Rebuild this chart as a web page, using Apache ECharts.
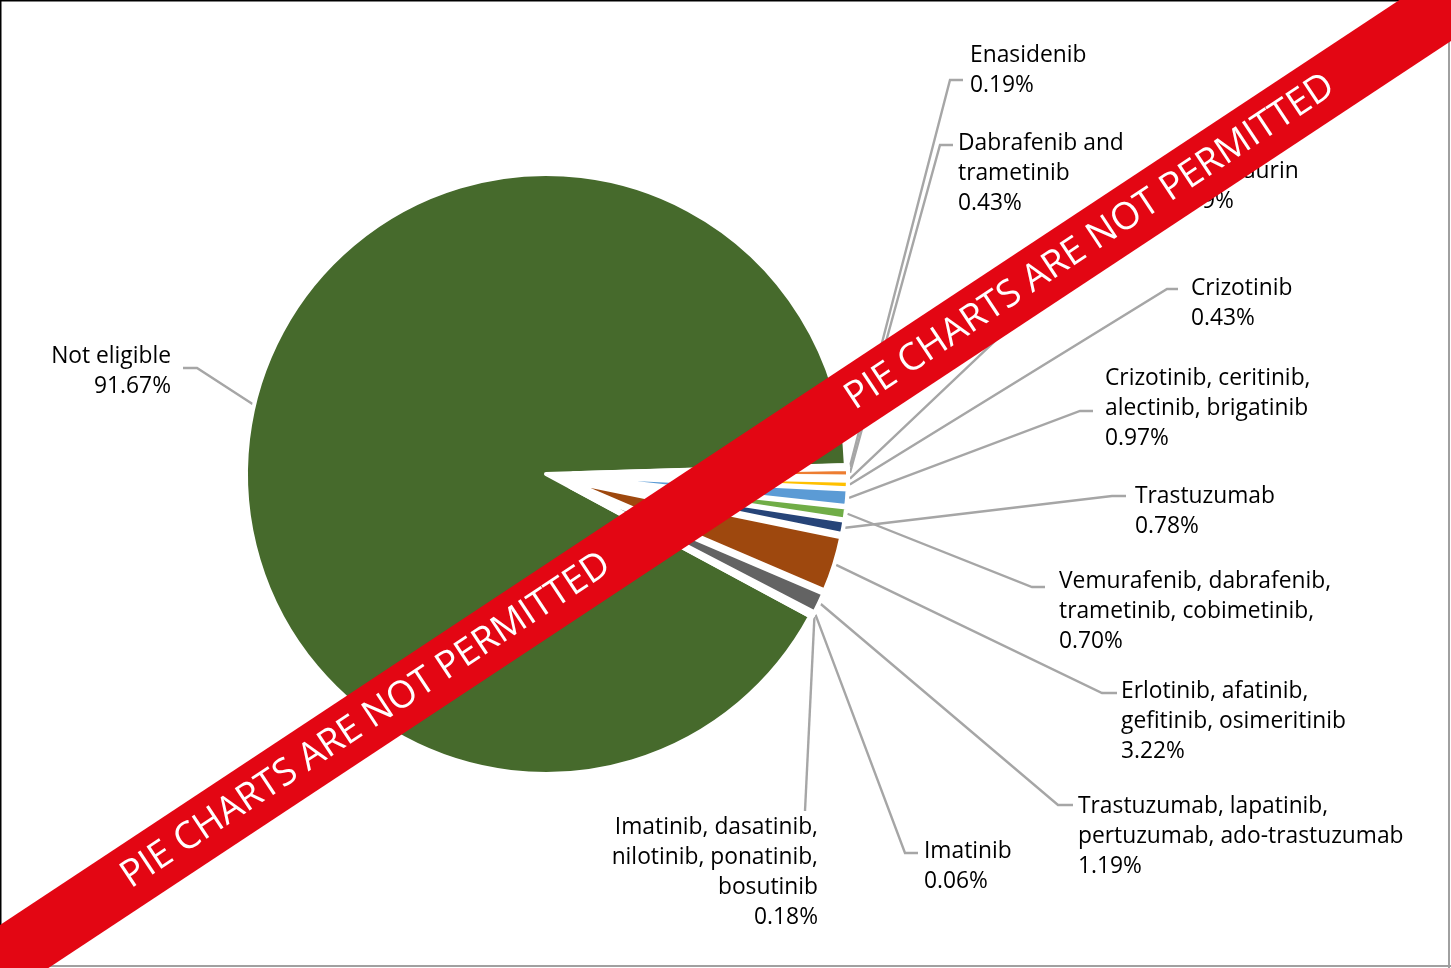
<!DOCTYPE html>
<html><head><meta charset="utf-8">
<script src="https://cdn.jsdelivr.net/npm/echarts@6/dist/echarts.min.js"></script>
<style>html,body{margin:0;padding:0;background:#fff;overflow:hidden}#chart{width:1451px;height:968px}</style>
</head><body><div id="chart"></div>
<script>
// ---- data ----
const categories = [
  'Enasidenib',
  'Dabrafenib and\ntrametinib',
  'Midostaurin',
  'Crizotinib',
  'Crizotinib, ceritinib,\nalectinib, brigatinib',
  'Vemurafenib, dabrafenib,\ntrametinib, cobimetinib,',
  'Trastuzumab',
  'Erlotinib, afatinib,\ngefitinib, osimeritinib',
  'Trastuzumab, lapatinib,\npertuzumab, ado-trastuzumab',
  'Imatinib',
  'Imatinib, dasatinib,\nnilotinib, ponatinib,\nbosutinib',
  'Not eligible'
];
const values = [0.19, 0.43, 0.19, 0.43, 0.97, 0.70, 0.78, 3.22, 1.19, 0.06, 0.18, 91.67];
const colors = ['#4472C4','#ED7D31','#A5A5A5','#FFC000','#5B9BD5','#70AD47','#264478','#9E480E','#636363','#997300','#255E91','#466A2C'];
const bannerText = 'PIE CHARTS ARE NOT PERMITTED';

// ---- layout ----
const CX = 546, CY = 474;
const MAIN = categories.length - 1;
const FONT = '"Open Sans", "Noto Sans", sans-serif';
const labelPlace = [
  {x: 970,  y: 41,  align: 'left',  elbow: [950, 80],  end: [963, 80]},
  {x: 958,  y: 129, align: 'left',  elbow: [940, 145], end: [953, 145]},
  {x: 1170, y: 157, align: 'left',  elbow: [1148, 196], end: [1162, 196]},
  {x: 1191, y: 274, align: 'left',  elbow: [1167, 289], end: [1178, 289]},
  {x: 1105, y: 364, align: 'left',  elbow: [1080, 411], end: [1093, 411]},
  {x: 1059, y: 567, align: 'left',  elbow: [1032, 587], end: [1045, 587]},
  {x: 1135, y: 482, align: 'left',  elbow: [1112, 496], end: [1126, 496]},
  {x: 1121, y: 677, align: 'left',  elbow: [1102, 693], end: [1117, 693]},
  {x: 1078, y: 792, align: 'left',  elbow: [1058, 805], end: [1073, 805]},
  {x: 924,  y: 837, align: 'left',  elbow: [905, 853], end: [918, 853]},
  {x: 818,  y: 813, align: 'right', elbow: [805, 811], end: null},
  {x: 171,  y: 342, align: 'right', elbow: [197, 368], end: [183, 368]}
];

const chart = echarts.init(document.getElementById('chart'), null, {renderer: 'canvas', width: 1451, height: 968});

const dataA = categories.map((n, i) => ({
  name: n, value: values[i],
  itemStyle: i === MAIN ? {color: colors[i]} : {color: 'rgba(0,0,0,0)', borderWidth: 0}
}));
const dataB = categories.map((n, i) => ({
  name: n, value: values[i], selected: i !== MAIN,
  itemStyle: i === MAIN ? {color: 'rgba(0,0,0,0)', borderWidth: 0} : {color: colors[i]}
}));

// banner geometry (decoration)
const slope = 0.661;
const up0 = 925, lo0 = 1000;
const bx1 = -60, bx2 = 1560;
const ang = Math.atan(slope);

chart.setOption({
  animation: false,
  series: [
    {
      type: 'pie', center: [CX, CY], radius: 300, startAngle: 1.7, clockwise: true,
      avoidLabelOverlap: false, silent: true, z: 2,
      itemStyle: {borderColor: '#fff', borderWidth: 4},
      label: {
        show: true, color: '#000', fontSize: 22.8, lineHeight: 30, fontFamily: FONT,
        formatter: p => p.name + '\n' + values[p.dataIndex].toFixed(2) + '%'
      },
      labelLine: {show: true, length: 10, length2: 10, smooth: false, lineStyle: {color: '#A6A6A6', width: 2.4}},
      labelLayout: function (params) {
        const lp = labelPlace[params.dataIndex];
        const p0 = params.labelLinePoints ? params.labelLinePoints[0] : [CX, CY];
        const k = params.dataIndex === MAIN ? 1.0 : 304 / 300;
        const s = [CX + (p0[0] - CX) * k, CY + (p0[1] - CY) * k];
        const pts = lp.end ? [s, lp.elbow, lp.end] : [s, lp.elbow];
        return {x: lp.x, y: lp.y, align: lp.align, verticalAlign: 'top', labelLinePoints: pts};
      },
      data: dataA
    },
    {
      type: 'pie', center: [CX, CY], radius: 275, startAngle: 1.7, clockwise: true,
      selectedMode: 'multiple', selectedOffset: 27, silent: true, z: 3,
      itemStyle: {borderColor: '#fff', borderWidth: 4},
      label: {show: false}, labelLine: {show: false},
      emphasis: {disabled: true},
      data: dataB
    }
  ],
  graphic: [
    {type: 'rect', z: 50, shape: {x: 0, y: 0, width: 1451, height: 1.5}, style: {fill: '#000'}, silent: true},
    {type: 'rect', z: 50, shape: {x: 0, y: 0, width: 1.5, height: 968}, style: {fill: '#000'}, silent: true},
    {type: 'rect', z: 50, shape: {x: 1448, y: 0, width: 2, height: 968}, style: {fill: '#A0A0A0'}, silent: true},
    {type: 'rect', z: 50, shape: {x: 0, y: 965, width: 1451, height: 2}, style: {fill: '#A0A0A0'}, silent: true},
    {
      type: 'polygon', z: 100, silent: true,
      shape: {points: [[bx1, up0 - slope * bx1], [bx2, up0 - slope * bx2], [bx2, lo0 - slope * bx2], [bx1, lo0 - slope * bx1]]},
      style: {fill: '#E30613'}
    },
    {
      type: 'text', z: 101, silent: true, x: 366, y: (up0 + lo0) / 2 - slope * 366, rotation: ang,
      style: {text: bannerText, fill: '#fff', fontSize: 37.5, fontFamily: FONT, align: 'center', verticalAlign: 'middle', textAlign: 'center', textVerticalAlign: 'middle'}
    },
    {
      type: 'text', z: 101, silent: true, x: 1090, y: (up0 + lo0) / 2 - slope * 1090, rotation: ang,
      style: {text: bannerText, fill: '#fff', fontSize: 37.5, fontFamily: FONT, align: 'center', verticalAlign: 'middle', textAlign: 'center', textVerticalAlign: 'middle'}
    }
  ]
});
</script>
</body></html>
